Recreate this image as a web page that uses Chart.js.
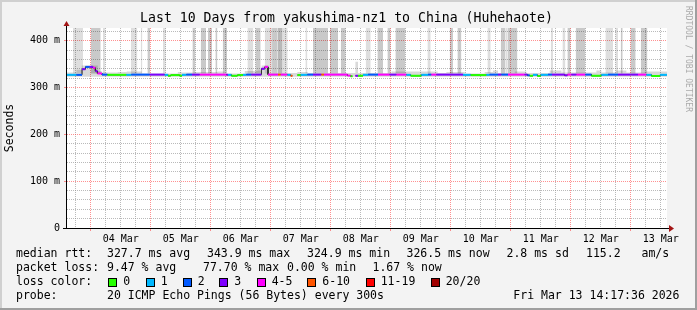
<!DOCTYPE html>
<html>
<head>
<meta charset="utf-8">
<title>Smokeping - yakushima-nz1 to China (Huhehaote)</title>
<script src="https://cdn.jsdelivr.net/npm/chart.js@4.4.1/dist/chart.umd.min.js"></script>
<style>
    html, body { margin: 0; padding: 0; background: #f3f3f3; }
    #wrap { width: 697px; height: 310px; }
</style>
</head>
<body>
<div id="wrap"><canvas id="chart" width="697" height="310"></canvas></div>
<script>
(function () {
    "use strict";

    // time axis: fractional day of March, last 10 days up to Mar 13 14:17
    var START = 3.605;
    var END = 13.605;

    // median rtt (ms) per step, start time of each step and its loss class
    var medTime = [3.595, 3.762, 3.855, 3.912, 3.983, 4.038, 4.078, 4.112, 4.188, 4.278,
        4.595, 4.678, 4.983, 5.233, 5.288, 5.333, 5.483, 5.522, 5.595, 5.688,
        5.817, 6.262, 6.288, 6.345, 6.445, 6.538, 6.595, 6.678, 6.845, 6.900,
        6.955, 7.122, 7.167, 7.278, 7.333, 7.362, 7.445, 7.500, 7.612, 7.705,
        7.845, 7.888, 8.278, 8.333, 8.362, 8.412, 8.455, 8.538, 8.622, 8.788,
        8.983, 9.095, 9.262, 9.333, 9.512, 9.622, 9.678, 9.762, 10.205, 10.333,
        10.595, 10.650, 10.788, 10.845, 10.955, 11.233, 11.278, 11.317, 11.372, 11.445,
        11.500, 11.622, 11.688, 11.900, 11.945, 12.012, 12.095, 12.245, 12.345, 12.512,
        12.622, 12.788, 13.012, 13.122, 13.262, 13.345, 13.490];
    var medValue = [327, 327, 339, 344, 344, 342, 335, 330, 327.5, 327,
        327, 327.5, 327.5, 327, 325, 326.5, 325, 327, 327.5, 327.5,
        327.5, 327, 327, 325, 326.5, 327, 327.5, 327.5, 340, 344,
        327.5, 327.5, 327.5, 327, 325, null, 326.5, 327, 327.5, 327.5,
        327.5, 327.5, 325.5, 324, null, 325, 325, 327, 327.5, 327.5,
        327.5, 327.5, 327, 325, 327, 327.5, 327.5, 327.5, 327, 326.5,
        327, 327.5, 327.5, 327.5, 327.5, 327.5, 326, 325, 327, 324.5,
        327, 327.5, 327.5, 326, 327.5, 327.5, 327.5, 327.5, 325, 327,
        327.5, 327.5, 327.5, 327.5, 327, 324.5, 327];
    var medLoss = [1, 2, 3, 2, 3, 4, 3, 4, 2, 0,
        1, 2, 3, 1, 0, 0, 0, 1, 2, 3,
        4, 3, 1, 0, 0, 1, 2, 3, 3, 4,
        4, 5, 4, 1, 5, 0, 0, 1, 2, 3,
        5, 4, 4, 0, 0, 3, 0, 1, 2, 4,
        3, 4, 1, 0, 1, 2, 4, 3, 1, 0,
        1, 2, 3, 2, 4, 3, 2, 0, 1, 0,
        1, 2, 3, 3, 4, 3, 4, 2, 0, 1,
        2, 3, 3, 4, 1, 0, 1];

    // smoke just above the median line (upper ping rtt, ms)
    var smokeTime = [3.595, 3.762, 3.850, 4.117, 4.184, 4.450, 4.600, 4.850, 5.452, 5.517,
        5.733, 6.117, 6.233, 6.567, 6.783, 6.850, 6.967, 7.445, 7.617, 8.412,
        8.455, 9.012, 9.783, 9.928, 10.233, 10.567, 10.705, 10.788, 11.067, 11.262,
        11.650, 11.845, 12.428, 12.512, 12.762, 12.928, 13.233];
    var smokeTop = [332, 338, 347, 335, 332, 333, 334, 330, 333, 332,
        333, 334, 330, 335, 336, 347, 331, 333, 331, 355,
        331, 334, 331, 333, 330, 333, 336, 331, 334, 331,
        336, 332, 336, 332, 336, 332, 334];

    // periods where part of the pings went off the top of the graph
    var barStart = [3.705, 4.000, 4.205, 4.667, 4.833, 4.945, 5.205, 5.695, 5.833, 5.955,
        6.078, 6.200, 6.612, 6.745, 6.900, 7.022, 7.117, 7.200, 7.578, 7.705,
        7.988, 8.167, 8.583, 8.778, 8.945, 9.078, 9.612, 9.983, 10.112, 10.612,
        10.833, 10.912, 10.950, 11.667, 11.862, 11.945, 12.083, 12.578, 12.745, 12.833,
        12.995, 13.167];
    var barEnd = [3.872, 4.167, 4.245, 4.778, 4.862, 4.988, 5.250, 5.745, 5.922, 6.022,
        6.112, 6.272, 6.712, 6.833, 7.022, 7.117, 7.200, 7.283, 7.612, 7.955,
        8.122, 8.250, 8.667, 8.872, 9.000, 9.245, 9.667, 10.038, 10.178, 10.667,
        10.912, 10.950, 11.112, 11.705, 11.912, 12.000, 12.245, 12.705, 12.788, 12.867,
        13.083, 13.278];
    var barShade = [0, 1, 0, 0, 0, 1, 0, 1, 1, 1,
        1, 1, 0, 1, 0, 1, 2, 0, 0, 1,
        1, 1, 0, 1, 1, 1, 0, 1, 1, 0,
        1, 0, 1, 0, 0, 1, 1, 0, 0, 1,
        1, 1];

    var yGrid = [0, 20, 40, 60, 80, 100, 120, 140, 160, 180, 200, 220, 240,
        260, 280, 300, 320, 340, 360, 380, 400, 420];
    var yMajor = [0, 100, 200, 300, 400];
    var yLabels = ["0", "100 m", "200 m", "300 m", "400 m"];
    var dayNoon = [4.5, 5.5, 6.5, 7.5, 8.5, 9.5, 10.5, 11.5, 12.5, 13.5];
    var dayLabels = ["04 Mar", "05 Mar", "06 Mar", "07 Mar", "08 Mar",
        "09 Mar", "10 Mar", "11 Mar", "12 Mar", "13 Mar"];

    var lossColors = ["#26ff00", "#00b8ff", "#0059ff", "#7e00ff",
        "#ff00ff", "#ff5500", "#ff0000", "#a10000"];
    var lossNames = ["0", "1", "2", "3", "4-5", "6-10", "11-19", "20/20"];

    var Y_MAX = 427;
    var MONO = '"DejaVu Sans Mono", "Liberation Mono", monospace';
    var MAJOR_GRID = "rgba(255, 70, 70, 0.6)";
    var MINOR_GRID = "rgba(140, 140, 140, 0.6)";
    var SHADES = ["rgba(0,0,0,0.13)", "rgba(0,0,0,0.21)", "rgba(0,0,0,0.28)"];

    var xGrid = [];
    for (var g = 3.75; g <= 13.5; g += 0.25) {
        xGrid.push(g);
    }

    function stepPoints(times, values, loss, end) {
        var pts = [];
        for (var i = 0; i < times.length; i++) {
            var next = i + 1 < times.length ? times[i + 1] : end;
            if (values[i] === null) {
                pts.push({ x: times[i], y: null, loss: -1 });
                continue;
            }
            pts.push({ x: times[i], y: values[i], loss: loss ? loss[i] : 0 });
            pts.push({ x: next, y: values[i], loss: -1 });
        }
        return pts;
    }

    function barPoints(shade) {
        var pts = [];
        for (var i = 0; i < barStart.length; i++) {
            if (barShade[i] !== shade) {
                continue;
            }
            pts.push({ x: barStart[i], y: Y_MAX });
            pts.push({ x: barEnd[i], y: Y_MAX });
            pts.push({ x: barEnd[i], y: null });
        }
        return pts;
    }

    var medPts = stepPoints(medTime, medValue, medLoss, END);

    var bareLine = {
        pointRadius: 0,
        borderWidth: 0,
        spanGaps: false,
        tension: 0,
    };

    var datasets = [
        Object.assign({}, bareLine, {
            data: medPts,
            borderWidth: 2,
            borderColor: "#000",
            segment: {
                borderColor: function (ctx) {
                    var p = medPts[ctx.p0DataIndex];
                    return p && p.loss >= 0 ? lossColors[p.loss] : "rgba(0,0,0,0)";
                },
            },
            fill: false,
        }),
        Object.assign({}, bareLine, {
            data: medPts,
            borderWidth: 1,
            borderColor: "#202020",
            fill: false,
        }),
        Object.assign({}, bareLine, {
            data: stepPoints(smokeTime, smokeTop, null, END),
            backgroundColor: "rgba(0,0,0,0.15)",
            fill: { value: 323 },
        }),
        Object.assign({}, bareLine, {
            data: barPoints(0),
            backgroundColor: SHADES[0],
            fill: { value: 330 },
        }),
        Object.assign({}, bareLine, {
            data: barPoints(1),
            backgroundColor: SHADES[1],
            fill: { value: 330 },
        }),
        Object.assign({}, bareLine, {
            data: barPoints(2),
            backgroundColor: SHADES[2],
            fill: { value: 330 },
        }),
    ];

    var legendRows = [
        { y: 254.5, items: [[16, "median rtt:"], [107, "327.7 ms avg"], [207, "343.9 ms max"],
            [307, "324.9 ms min"], [406.5, "326.5 ms now"], [506.5, "2.8 ms sd"],
            [586, "115.2"], [641.5, "am/s"]] },
        { y: 268.5, items: [[16, "packet loss:"], [107, "9.47 % avg"], [203, "77.70 % max"],
            [287, "0.00 % min"], [372.5, "1.67 % now"]] },
        { y: 282.5, items: [[16, "loss color:"]] },
        { y: 296.5, items: [[16, "probe:"], [107, "20 ICMP Echo Pings (56 Bytes) every 300s"],
            [513.3, "Fri Mar 13 14:17:36 2026"]] },
    ];
    var swatchX = [108.3, 145.7, 182.7, 219.3, 256.7, 307.3, 365.7, 430.7];

    var rrdFrame = {
        id: "rrdFrame",
        beforeDraw: function (chart) {
            var ctx = chart.ctx;
            var a = chart.chartArea;
            ctx.save();
            ctx.fillStyle = "#f3f3f3";
            ctx.fillRect(0, 0, chart.width, chart.height);
            ctx.fillStyle = "#ffffff";
            ctx.fillRect(a.left, a.top, a.right - a.left, a.bottom - a.top);
            ctx.restore();
        },
        afterDraw: function (chart) {
            var ctx = chart.ctx;
            var a = chart.chartArea;
            var W = chart.width;
            var H = chart.height;
            ctx.save();

            // axes
            ctx.strokeStyle = "#000";
            ctx.lineWidth = 1;
            ctx.beginPath();
            ctx.moveTo(a.left - 4, a.bottom + 0.5);
            ctx.lineTo(a.right + 2, a.bottom + 0.5);
            ctx.moveTo(a.left - 0.5, a.bottom + 1);
            ctx.lineTo(a.left - 0.5, a.top - 5);
            ctx.stroke();
            ctx.fillStyle = "#a31515";
            ctx.beginPath();
            ctx.moveTo(a.right + 2, a.bottom - 3);
            ctx.lineTo(a.right + 7, a.bottom + 0.5);
            ctx.lineTo(a.right + 2, a.bottom + 4);
            ctx.closePath();
            ctx.fill();
            ctx.beginPath();
            ctx.moveTo(a.left - 3.5, a.top - 2);
            ctx.lineTo(a.left - 0.5, a.top - 7);
            ctx.lineTo(a.left + 2.5, a.top - 2);
            ctx.closePath();
            ctx.fill();

            // title and axis caption
            ctx.fillStyle = "#000";
            ctx.textBaseline = "middle";
            ctx.textAlign = "center";
            ctx.font = "13.2px " + MONO;
            ctx.fillText("Last 10 Days from yakushima-nz1 to China (Huhehaote)", 346.5, 18.5);

            ctx.save();
            ctx.translate(10, 128);
            ctx.rotate(-Math.PI / 2);
            ctx.font = "11.5px " + MONO;
            ctx.fillText("Seconds", 0, 0);
            ctx.restore();

            ctx.save();
            ctx.translate(688, 59);
            ctx.rotate(Math.PI / 2);
            ctx.font = "8px " + MONO;
            ctx.fillStyle = "#aaaaaa";
            ctx.fillText("RRDTOOL / TOBI OETIKER", 0, 0);
            ctx.restore();

            // legend block
            ctx.textAlign = "left";
            ctx.font = "11.5px " + MONO;
            legendRows.forEach(function (row) {
                row.items.forEach(function (it) {
                    ctx.fillText(it[1], it[0], row.y);
                });
            });
            lossNames.forEach(function (name, i) {
                var x = Math.round(swatchX[i]);
                ctx.fillStyle = lossColors[i];
                ctx.fillRect(x, 278, 9, 9);
                ctx.strokeStyle = "#000";
                ctx.strokeRect(x + 0.5, 278.5, 8, 8);
                ctx.fillStyle = "#000";
                ctx.fillText(name, swatchX[i] + 15, 282.5);
            });

            // 3d frame
            ctx.fillStyle = "#d0d0d0";
            ctx.fillRect(0, 0, W, 2);
            ctx.fillRect(0, 0, 2, H);
            ctx.fillStyle = "#9f9f9f";
            ctx.fillRect(0, H - 2, W, 2);
            ctx.fillRect(W - 2, 0, 2, H);
            ctx.restore();
        },
    };

    new Chart(document.getElementById("chart"), {
        type: "line",
        data: { datasets: datasets },
        plugins: [rrdFrame],
        options: {
            responsive: false,
            devicePixelRatio: 1,
            animation: false,
            parsing: { xAxisKey: "x", yAxisKey: "y" },
            layout: { padding: { left: 0, top: 28, right: 30, bottom: 0 } },
            plugins: {
                legend: { display: false },
                tooltip: { enabled: false },
            },
            scales: {
                x: {
                    type: "linear",
                    min: START,
                    max: END,
                    afterBuildTicks: function (scale) {
                        scale.ticks = xGrid.map(function (v) { return { value: v }; });
                    },
                    afterFit: function (scale) {
                        scale.height = 82;
                    },
                    grid: {
                        lineWidth: 1,
                        tickLength: 3,
                        borderDash: [1, 1],
                        color: function (ctx) {
                            return Number.isInteger(ctx.tick.value) ? MAJOR_GRID : MINOR_GRID;
                        },
                        tickColor: function (ctx) {
                            return Number.isInteger(ctx.tick.value) ? MAJOR_GRID : "rgba(0,0,0,0)";
                        },
                    },
                    border: { display: false, dash: [1, 1] },
                    ticks: {
                        autoSkip: false,
                        maxRotation: 0,
                        padding: 2,
                        color: "#000",
                        font: { family: MONO, size: 10 },
                        callback: function (v) {
                            var i = dayNoon.indexOf(v);
                            return i < 0 ? "" : dayLabels[i];
                        },
                    },
                },
                y: {
                    min: 0,
                    max: Y_MAX,
                    afterBuildTicks: function (scale) {
                        scale.ticks = yGrid.map(function (v) { return { value: v }; });
                    },
                    afterFit: function (scale) {
                        scale.width = 67;
                    },
                    grid: {
                        lineWidth: 1,
                        tickLength: 3,
                        borderDash: [1, 1],
                        color: function (ctx) {
                            return yMajor.indexOf(ctx.tick.value) >= 0 ? MAJOR_GRID : MINOR_GRID;
                        },
                        tickColor: function (ctx) {
                            return yMajor.indexOf(ctx.tick.value) >= 0 ? MAJOR_GRID : "rgba(0,0,0,0)";
                        },
                    },
                    border: { display: false, dash: [1, 1] },
                    ticks: {
                        autoSkip: false,
                        padding: 4,
                        color: "#000",
                        font: { family: MONO, size: 10 },
                        callback: function (v) {
                            var i = yMajor.indexOf(v);
                            return i < 0 ? "" : yLabels[i];
                        },
                    },
                },
            },
        },
    });
})();
</script>
</body>
</html>
